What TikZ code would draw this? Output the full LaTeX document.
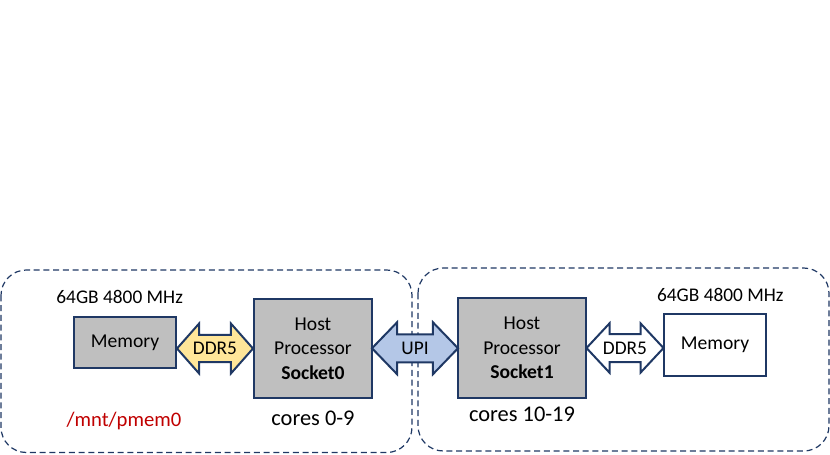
\documentclass[tikz,border=0pt]{standalone}
\usepackage{fontspec}
\setmainfont{Carlito}
\usetikzlibrary{shapes.arrows,positioning,calc}
\definecolor{boxnavy}{HTML}{1F3864}
\definecolor{boxgray}{HTML}{BFBFBF}
\definecolor{ddrgold}{HTML}{FFE699}
\definecolor{upiblue}{HTML}{B4C7E7}
\definecolor{pathred}{HTML}{C00000}

\begin{document}
\begin{tikzpicture}[x=0.75pt,y=-0.75pt]
        \tikzset{
        group box/.style={draw=boxnavy,line width=0.9pt,dash pattern=on 4.5pt off 2.8pt,rounded corners=19pt},
        hw node/.style={draw=boxnavy,line width=1.5pt,fill=boxgray,inner sep=0,align=center,font=\fontsize{14.7}{18.5}\selectfont},
        bus arrow/.style={double arrow,draw=boxnavy,line width=1.5pt,inner xsep=0,inner ysep=4.9pt,
            text height=9pt,text depth=0pt,font=\fontsize{14.5}{18}\selectfont},
        info text/.style={inner sep=0,font=\fontsize{14.5}{18}\selectfont},
        core text/.style={inner sep=0,font=\fontsize{16.8}{20}\selectfont}
        }
        \useasboundingbox (0,0) rectangle (830,454);
        % socket groups
        \draw[group box] (1,270) rectangle (412,452.5);
        \draw[group box] (418,268) rectangle (829,451);

        \node[hw node, minimum width=76.5pt, minimum height=38.25pt] (mem0) at (125,342.5) {Memory};
        \node[hw node, minimum width=88.5pt, minimum height=74.25pt] (cpu0) at (313,348.5) {Host\\Processor\\\textbf{Socket0}};
        \node[hw node, minimum width=96pt, minimum height=75pt] (cpu1) at (522,348) {Host\\Processor\\\textbf{Socket1}};
        \node[hw node, fill=white, minimum width=76.5pt, minimum height=46.5pt] (mem1) at (715,345) {Memory};

        \node[bus arrow, fill=ddrgold, minimum height=57pt, double arrow head extend=8.6pt, double arrow tip angle=97]
            (ddr0) at ($(mem0.east |- cpu0.west)!0.5!(cpu0.west)$) {DDR5};
        \node[bus arrow, fill=upiblue, minimum height=64.5pt, double arrow head extend=9pt, double arrow tip angle=92, inner ysep=5.25pt]
            (upi) at ($(cpu0.east)!0.5!(cpu1.west)$) {UPI};
        \node[bus arrow, fill=white, minimum height=57.75pt, double arrow head extend=8pt, double arrow tip angle=94, inner ysep=5.25pt]
            (ddr1) at ($(cpu1.east)!0.5!(mem1.west |- cpu1.east)$) {DDR5};

        \node[info text, above=9pt of mem0, xshift=-4pt] (cap0) {64GB 4800 MHz};
        \node[info text, above=8.5pt of mem1, xshift=4pt] (cap1) {64GB 4800 MHz};
        \node[core text, below=8.5pt of cpu0] (cores0) {cores 0-9};
        \node[core text, below=5.5pt of cpu1] (cores1) {cores 10-19};
        \node[info text, text=pathred, font=\fontsize{15.5}{18}\selectfont] (pmem) at (124,421) {/mnt/pmem0};
    \end{tikzpicture}
\end{document}
